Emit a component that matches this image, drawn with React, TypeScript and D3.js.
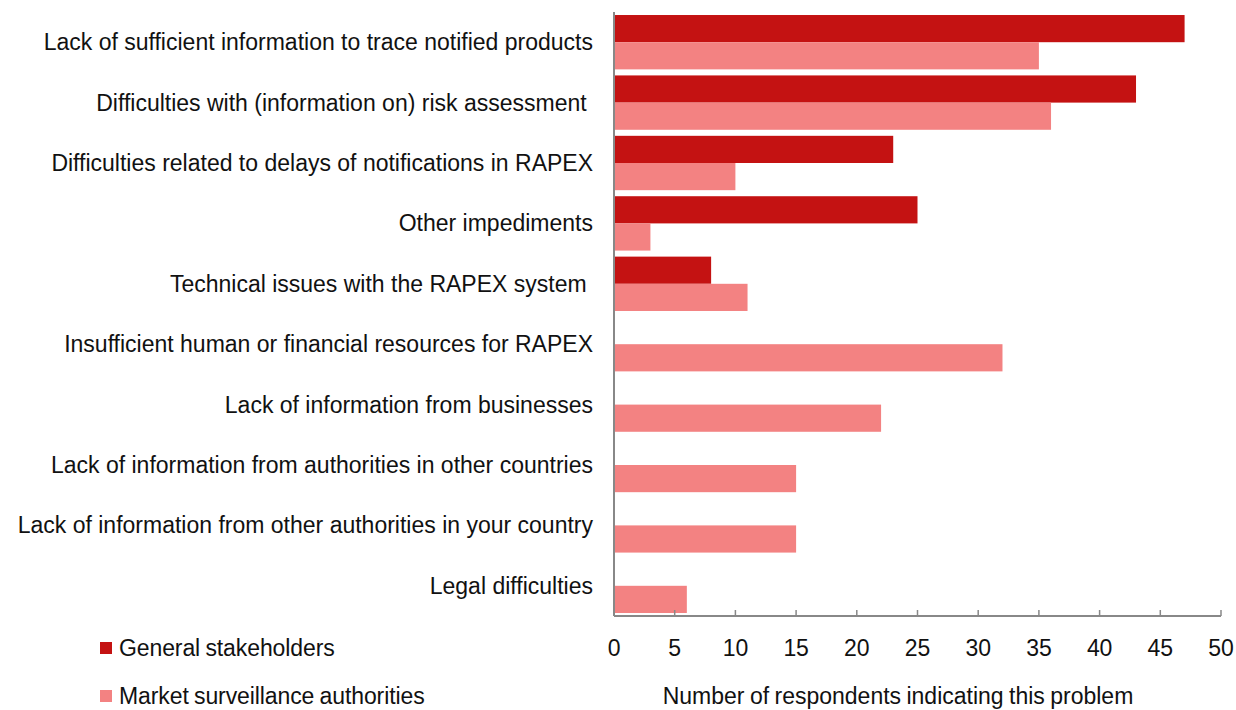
import React from "react";
import * as d3 from "d3";

const categories = [
  "Lack of sufficient information to trace notified products",
  "Difficulties with (information on) risk assessment ",
  "Difficulties related to delays of notifications in RAPEX",
  "Other impediments",
  "Technical issues with the RAPEX system ",
  "Insufficient human or financial resources for RAPEX",
  "Lack of information from businesses",
  "Lack of information from authorities in other countries",
  "Lack of information from other authorities in your country",
  "Legal difficulties",
];
const generalStakeholders = [47, 43, 23, 25, 8, 0, 0, 0, 0, 0];
const marketSurveillance = [35, 36, 10, 3, 11, 32, 22, 15, 15, 6];
const seriesNames = ["General stakeholders", "Market surveillance authorities"];
const xTicks = [0, 5, 10, 15, 20, 25, 30, 35, 40, 45, 50];
const axisTitle = "Number of respondents indicating this problem";

const COLORS = ["#C41212", "#F38282"];
const FONT = "'Liberation Sans', Arial, sans-serif";
const FS = 23;
const LS = -0.1;
const WS = -1;

export default function App() {
  const W = 1236, H = 710;
  const left = 614, right = 1221, top = 12, bottom = 616;
  const x = d3.scaleLinear().domain([0, 50]).range([left, right]);
  const y = d3.scaleBand<string>().domain(categories).range([top, bottom]).paddingInner(0.1).paddingOuter(0.05);
  const sub = d3.scaleBand<number>().domain([0, 1]).range([0, y.bandwidth()]);
  const series = [generalStakeholders, marketSurveillance];

  return (
    <svg width={W} height={H} style={{ position: "absolute", left: 0, top: 0, fontFamily: FONT }}>
      {series.map((vals, si) =>
        vals.map((v, i) =>
          v > 0 ? (
            <rect
              key={`${si}-${i}`}
              x={x(0)}
              y={(y(categories[i]) as number) + (sub(si) as number)}
              width={x(v) - x(0)}
              height={sub.bandwidth()}
              fill={COLORS[si]}
            />
          ) : null
        )
      )}
      {categories.map((c) => (
        <text
          key={c}
          x={593}
          y={(y(c) as number) + y.bandwidth() / 2}
          textAnchor="end"
          dominantBaseline="central"
          fontSize={FS}
          letterSpacing={0}
          wordSpacing={0}
          fill="#111"
          style={{ whiteSpace: "pre" }}
        >
          {c}
        </text>
      ))}
      <line x1={left} x2={left} y1={top} y2={bottom} stroke="#888" strokeWidth={2} />
      <line x1={left} x2={right} y1={bottom} y2={bottom} stroke="#888" strokeWidth={2} />
      {xTicks.map((t) => (
        <g key={t}>
          <line x1={x(t)} x2={x(t)} y1={bottom} y2={bottom - 6} stroke="#888" strokeWidth={1.5} />
          <text x={x(t)} y={648} textAnchor="middle" dominantBaseline="central" fontSize={FS} letterSpacing={LS} fill="#111">
            {t}
          </text>
        </g>
      ))}
      <text x={898} y={696} textAnchor="middle" dominantBaseline="central" fontSize={FS} letterSpacing={0} wordSpacing={-1} fill="#111">
        {axisTitle}
      </text>
      {seriesNames.map((n, i) => (
        <g key={n}>
          <rect x={100} y={642 + i * 48} width={12} height={12} fill={COLORS[i]} />
          <text x={119} y={648 + i * 48} dominantBaseline="central" fontSize={FS} letterSpacing={LS} wordSpacing={WS} fill="#111">
            {n}
          </text>
        </g>
      ))}
    </svg>
  );
}
